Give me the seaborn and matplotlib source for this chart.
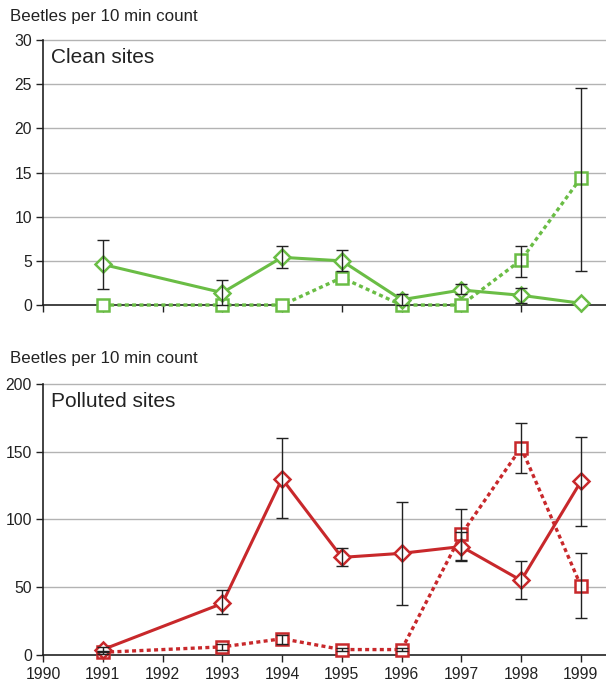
import numpy as np
import pandas as pd
import matplotlib
matplotlib.use("Agg")
import matplotlib.pyplot as plt
import seaborn as sns

# ── Data ──────────────────────────────────────────────────────────────────────
clean_years = [1991, 1993, 1994, 1995, 1996, 1997, 1998, 1999]
clean_diamond = [4.6, 1.4, 5.4, 5.0, 0.6, 1.7, 1.1, 0.2]
clean_diamond_lo = [1.8, 0.0, 4.2, 3.8, 0.0, 1.2, 0.2, np.nan]
clean_diamond_hi = [7.4, 2.8, 6.7, 6.2, 1.3, 2.4, 1.9, np.nan]
clean_square = [0.0, 0.0, 0.0, 3.1, 0.0, 0.0, 5.1, 14.4]
clean_square_lo = [np.nan, np.nan, np.nan, np.nan, np.nan, np.nan, 3.2, 3.9]
clean_square_hi = [np.nan, np.nan, np.nan, np.nan, np.nan, np.nan, 6.7, 24.6]

poll_years = [1991, 1993, 1994, 1995, 1996, 1997, 1998, 1999]
poll_diamond = [4, 38, 130, 72, 75, 80, 55, 128]
poll_diamond_lo = [2, 30, 101, 66, 37, 69, 41, 95]
poll_diamond_hi = [6, 48, 160, 79, 113, 91, 69, 161]
poll_square = [2, 6, 12, 4, 4, 89, 153, 51]
poll_square_lo = [1, 4, 8, 3, 3, 70, 134, 27]
poll_square_hi = [3, 8, 15, 5, 5, 108, 171, 75]

x_ticks = list(range(1990, 2000))
clean_yticks = [0, 5, 10, 15, 20, 25, 30]
poll_yticks = [0, 50, 100, 150, 200]

GREEN = "#6abd45"
RED = "#c8282b"

sns.set_style("white")
plt.rcParams["font.family"] = ["Liberation Sans", "DejaVu Sans"]

fig = plt.figure(figsize=(6.06, 6.83), dpi=100)
ax1 = fig.add_axes([0.071, 0.5534, 0.929, 0.388])
ax2 = fig.add_axes([0.071, 0.041, 0.929, 0.397])


def draw_panel(ax, years, dia, dlo, dhi, sq, slo, shi, color, yticks, title):
    df = pd.DataFrame({"year": years, "dia": dia, "sq": sq})
    for y in yticks[1:]:
        ax.axhline(y, color="#b3b3b3", lw=1.0, zorder=0)
    sns.lineplot(data=df, x="year", y="sq", ax=ax, color=color, lw=2.4,
                 linestyle=(0, (1.2, 1.0)), marker="s", markersize=9,
                 markerfacecolor="white", markeredgecolor=color,
                 markeredgewidth=1.8, zorder=3)
    sns.lineplot(data=df, x="year", y="dia", ax=ax, color=color, lw=2.2,
                 marker="D", markersize=8.5, markerfacecolor="white",
                 markeredgecolor=color, markeredgewidth=1.8, zorder=4)
    for val, lo, hi in [(dia, dlo, dhi), (sq, slo, shi)]:
        v = np.array(val, float)
        lo = np.array(lo, float)
        hi = np.array(hi, float)
        ok = ~np.isnan(lo)
        ax.errorbar(np.array(years)[ok], v[ok],
                    yerr=[v[ok] - lo[ok], hi[ok] - v[ok]],
                    fmt="none", ecolor="#222222", elinewidth=1.0, capsize=4,
                    capthick=1.0, zorder=5)
    ax.set_xlim(1990, 1999.42)
    ax.set_ylim(0, yticks[-1])
    ax.set_yticks(yticks)
    ax.set_xticks(x_ticks)
    ax.set_xlabel("")
    ax.set_ylabel("")
    for sp in ["top", "right"]:
        ax.spines[sp].set_visible(False)
    for sp in ["left", "bottom"]:
        ax.spines[sp].set_color("#222222")
        ax.spines[sp].set_linewidth(1.2)
    ax.tick_params(axis="both", direction="out", length=5, width=1.0,
                   color="#222222", labelsize=11.3, labelcolor="#222222",
                   bottom=True, left=True)
    ax.tick_params(axis="y", pad=3)
    ax.text(0.015, 0.97, title, transform=ax.transAxes, ha="left", va="top",
            fontsize=15, color="#222222")
    for ln in ax.lines:
        ln.set_clip_on(False)


draw_panel(ax1, clean_years, clean_diamond, clean_diamond_lo, clean_diamond_hi,
           clean_square, clean_square_lo, clean_square_hi, GREEN,
           clean_yticks, "Clean sites")
draw_panel(ax2, poll_years, poll_diamond, poll_diamond_lo, poll_diamond_hi,
           poll_square, poll_square_lo, poll_square_hi, RED,
           poll_yticks, "Polluted sites")
ax1.set_xticklabels([])

fig.text(10 / 606, 1 - 16 / 683, "Beetles per 10 min count", ha="left",
         va="center", fontsize=12.2, color="#222222")
fig.text(10 / 606, 1 - 359 / 683, "Beetles per 10 min count", ha="left",
         va="center", fontsize=12.2, color="#222222")

fig.savefig("out.png", dpi=100)
